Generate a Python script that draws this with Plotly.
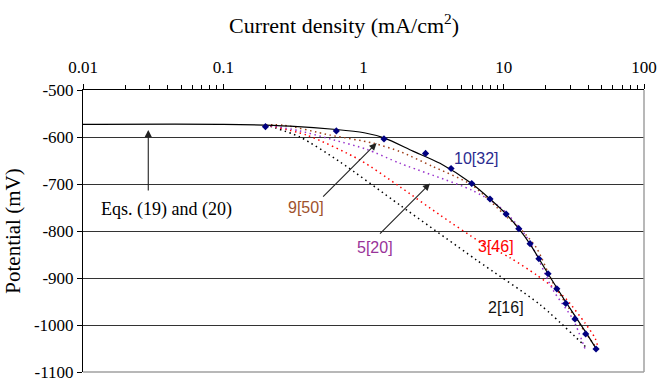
import numpy as np
import plotly.graph_objects as go

# ---- data (current density mA/cm2, potential mV) ----
model_x = [0.01, 0.1, 0.299, 0.64, 1.01, 1.40, 2.25, 3.51, 5.91, 7.98, 10.4, 12.8, 15.4, 20.7, 27.7, 38.4, 45.5]
model_y = [-573, -573, -577, -584, -591, -602, -630, -656, -699, -732, -764, -795, -828, -891, -951, -1015, -1050]

exp10_x = [0.20, 0.64, 1.40, 2.77, 4.21, 5.91, 7.98, 10.4, 12.8, 15.4, 17.8, 20.7, 23.9, 27.7, 32.2, 38.4, 45.5]
exp10_y = [-578, -587, -604, -635, -667, -699, -732, -764, -795, -827, -859, -891, -923, -954, -987, -1019, -1051]

m2_x = [0.2, 0.352, 0.68, 1.82, 6.41, 18.2, 39.5]
m2_y = [-574, -600, -653, -745, -862, -957, -1050]

m3_x = [0.2, 0.394, 0.944, 1.82, 3.51, 6.78, 11.1, 17.2, 23.2, 28.3, 38.0, 44.8, 47.2]
m3_y = [-574, -596, -649, -706, -766, -823, -857, -894, -923, -947, -996, -1028, -1049]

m5_x = [0.2, 0.35, 0.61, 1.05, 1.82, 5.91, 9.40, 13.4, 15.8, 22.5, 31.3, 37.9]
m5_y = [-574, -587, -606, -626, -656, -713, -749, -798, -830, -926, -989, -1050]

m9_x = [0.2, 0.27, 0.58, 1.17, 1.82, 3.13, 5.91, 10.5, 13.4, 17.2, 22.5, 33.1, 46.0]
m9_y = [-574, -575, -596, -613, -631, -663, -702, -770, -798, -837, -911, -989, -1050]

x_ticks = [0.01, 0.1, 1, 10, 100]
x_ticktext = ["0.01", "0.1", "1", "10", "100"]
y_ticks = [-500, -600, -700, -800, -900, -1000, -1100]
y_ticktext = ["-500", "-600", "-700", "-800", "-900", "-1000", "-1100"]

SERIF = "Liberation Serif, Times New Roman, serif"
SANS = "Liberation Sans, Arial, sans-serif"

fig = go.Figure()

def dotted(x, y, color):
    fig.add_trace(go.Scatter(x=x, y=y, mode="lines", line=dict(color=color, width=1.5, dash="1.5px,3.5px", shape="spline", smoothing=0.7),
                             hoverinfo="skip", showlegend=False))

dotted(m2_x, m2_y, "#000000")
dotted(m3_x, m3_y, "#FF0000")
dotted(m5_x, m5_y, "#9933CC")
dotted(m9_x, m9_y, "#A0401A")

fig.add_trace(go.Scatter(x=model_x, y=model_y, mode="lines", line=dict(color="black", width=1.2, shape="spline", smoothing=0.7),
                         showlegend=False))
fig.add_trace(go.Scatter(x=exp10_x, y=exp10_y, mode="markers",
                         marker=dict(symbol="diamond", size=5.5, color="#000080"), showlegend=False))

minor_vals = [m * 10.0 ** e for e in range(-2, 2) for m in range(2, 10)]

fig.update_layout(
    width=660, height=381,
    margin=dict(l=83, r=16, t=90, b=9),
    paper_bgcolor="white", plot_bgcolor="white",
    showlegend=False,
    xaxis=dict(type="log", side="top", range=[-2, 2], tickmode="array", tickvals=x_ticks, ticktext=x_ticktext,
               showgrid=False, zeroline=False, showline=True, linecolor="black", linewidth=1,
               ticks="outside", ticklen=5, tickcolor="black", tickwidth=1, automargin=False,
               tickfont=dict(family=SERIF, size=17, color="black"), ticklabelstandoff=4,
               minor=dict(tickvals=minor_vals, ticks="outside", ticklen=4, tickcolor="black", tickwidth=1, showgrid=False)),
    yaxis=dict(range=[-1100, -500], tickmode="array", tickvals=y_ticks, ticktext=y_ticktext,
               showgrid=True, gridcolor="#333333", gridwidth=1, zeroline=False, automargin=False,
               showline=True, linecolor="black", linewidth=1, ticks="outside", ticklen=5, tickcolor="black",
               tickfont=dict(family=SERIF, size=17, color="black"), ticklabeloverflow="allow",
               title=dict(text="Potential (mV)", font=dict(family=SERIF, size=21, color="black"), standoff=7)),
)

# x-axis title (placed slightly left of centre, as in the original)
fig.add_annotation(text="Current density (mA/cm<sup>2</sup>)", xref="paper", yref="paper",
                   x=0.465, y=1 + (90 - 24) / 282, xanchor="center", yanchor="middle", showarrow=False,
                   font=dict(family=SERIF, size=22, color="black"))

# right and bottom plot-area border (grey)
fig.add_shape(type="line", xref="paper", yref="paper", x0=1, x1=1, y0=0, y1=1, line=dict(color="#A0A0A0", width=1.5))
fig.add_shape(type="line", xref="paper", yref="paper", x0=0, x1=1, y0=0, y1=0, line=dict(color="#A0A0A0", width=1.5))

L = np.log10

def label(text, x, y, color, family=SANS, size=16):
    fig.add_annotation(x=L(x), y=y, xref="x", yref="y", text=text, showarrow=False,
                       font=dict(family=family, size=size, color=color))

def arrow(x_tail, y_tail, x_tip, y_tip):
    fig.add_annotation(x=L(x_tip), y=y_tip, ax=L(x_tail), ay=y_tail, xref="x", yref="y", axref="x", ayref="y",
                       text="", showarrow=True, arrowhead=2, arrowsize=1.3, arrowwidth=1.1, arrowcolor="#222222")

label("10[32]", 6.34, -645, "#2B2B8F")
label("9[50]", 0.389, -751, "#A0522D")
label("5[20]", 1.21, -836, "#993399")
label("3[46]", 8.81, -834, "#FF0000")
label("2[16]", 10.4, -962, "#111111")
label("Eqs. (19) and (20)", 0.0391, -755, "black", family=SERIF, size=18)

arrow(0.0292, -717, 0.0292, -585)
arrow(0.503, -730, 1.24, -613)
arrow(1.28, -809, 2.98, -699)

fig.write_html("out.html")
